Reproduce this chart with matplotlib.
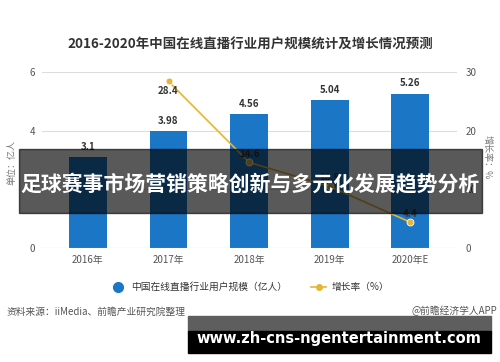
import matplotlib
matplotlib.use("Agg")
import matplotlib.pyplot as plt
from matplotlib.lines import Line2D
from matplotlib.patches import Rectangle

plt.rcParams['font.family'] = ['Noto Sans CJK SC', 'DejaVu Sans']

# donnees
years = ["2016年", "2017年", "2018年", "2019年", "2020年E"]
users = [3.1, 3.98, 4.56, 5.04, 5.26]
growth_years = [1, 2, 3, 4]
growth = [28.4, 14.6, 10.5, 4.4]
left_ticks = [0, 2, 4, 6]
right_ticks = [0, 10, 20, 30]

blue = "#1b76c6"
gold = "#e6b533"
W, H = 500, 362

fig = plt.figure(figsize=(5, 3.62), dpi=100)
ax = fig.add_axes([42 / W, 1 - 248 / H, 415 / W, 176 / H])
ax2 = ax.twinx()

x = range(len(years))
ax.bar(x, users, width=0.47, color=blue, zorder=2)
for i, v in zip(x, users):
    ax.annotate(f"{v:g}", (i, v), xytext=(0, 4), textcoords="offset points",
                ha="center", va="bottom", fontsize=7, color="#333333", fontweight="bold")

ax2.plot(growth_years, growth, color=gold, lw=1.2, marker="o", ms=5,
         markerfacecolor=gold, markeredgecolor="#ffffff", markeredgewidth=0.6, zorder=3)
for i, (gx, gv) in enumerate(zip(growth_years, growth)):
    dy = -7 if i == 0 else 6
    ax2.annotate(f"{gv:g}", (gx, gv), xytext=(0, dy), textcoords="offset points",
                 ha="center", va="center", fontsize=7, color="#333333", fontweight="bold")

ax.set_xlim(-0.57, 4.58)
ax.set_ylim(0, 6)
ax2.set_ylim(0, 30)
ax.set_yticks(left_ticks)
ax2.set_yticks(right_ticks)
ax.set_xticks(list(x))
ax.set_xticklabels(years)
ax.grid(axis="y", color="#dddddd", lw=0.8, zorder=0)
ax.set_axisbelow(True)
for a in (ax, ax2):
    for s in a.spines.values():
        s.set_visible(False)
    a.tick_params(length=0, labelsize=7, colors="#555555")
ax.tick_params(axis="y", pad=5)
ax2.tick_params(axis="y", pad=6)
ax.tick_params(axis="x", pad=5)
ax.axhline(0, color="#cccccc", lw=0.8)

fig.text(12 / W, 1 - 162 / H, "单位：亿人", rotation=90, ha="center", va="center",
         fontsize=6.5, color="#777777")
fig.text(487 / W, 1 - 157 / H, "增长率：%", rotation=270, ha="center", va="center",
         fontsize=6.5, color="#777777")

# titre
fig.text(0.5, 1 - 45 / H, "2016-2020年中国在线直播行业用户规模统计及增长情况预测",
         ha="center", va="center", fontsize=9.7, fontweight="bold", color="#333333")

# legende
handles = [Line2D([], [], marker="o", color=blue, ls="none", ms=7),
           Line2D([], [], marker="o", color=gold, lw=1.2, ms=4)]
fig.legend(handles, ["中国在线直播行业用户规模（亿人）", "增长率（%）"],
           loc="center", bbox_to_anchor=(0.5, 1 - 287 / H), ncol=2, frameon=False,
           fontsize=7, handlelength=1.5, columnspacing=2.5, handletextpad=0.6,
           labelcolor="#333333")

fig.text(7 / W, 1 - 312 / H, "资料来源：iiMedia、前瞻产业研究院整理", ha="left", va="center",
         fontsize=7, color="#555555")
fig.text(497 / W, 1 - 311 / H, "@前瞻经济学人APP", ha="right", va="center",
         fontsize=7, color="#555555")

# bandeau central
fig.patches.append(Rectangle((19 / W, 1 - 213 / H), 463 / W, 64 / H, transform=fig.transFigure,
                             color="black", alpha=0.65, zorder=10))
fig.text(250 / W, 1 - 185 / H, "足球赛事市场营销策略创新与多元化发展趋势分析", ha="center",
         va="center", fontsize=15, fontweight="bold", color="white", zorder=11)

# bandeau du bas
fig.patches.append(Rectangle((188 / W, 1 - 331 / H), 303 / W, 15 / H, transform=fig.transFigure,
                             color="#5e5e5e", zorder=10))
fig.patches.append(Rectangle((188 / W, 1 - 353 / H), 303 / W, 22 / H, transform=fig.transFigure,
                             color="black", zorder=10))
fig.text(339 / W, 1 - 338 / H, "www.zh-cns-ngentertainment.com", ha="center", va="center",
         fontsize=10.5, fontweight="bold", color="white", family="DejaVu Sans", zorder=11)

fig.savefig("out.png", dpi=100)
